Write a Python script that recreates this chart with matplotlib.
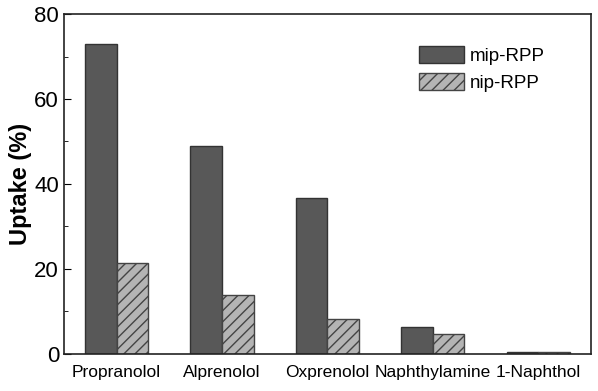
import matplotlib
matplotlib.use('Agg')
import matplotlib.pyplot as plt
import numpy as np

plt.rcParams['font.family'] = ['Liberation Sans', 'DejaVu Sans']
plt.rcParams['hatch.color'] = '#444444'
plt.rcParams['hatch.linewidth'] = 1.0

compounds = ['Propranolol', 'Alprenolol', 'Oxprenolol', 'Naphthylamine', '1-Naphthol']
mip_rpp = [72.9, 48.9, 36.7, 6.4, 0.5]
nip_rpp = [21.5, 13.9, 8.2, 4.6, 0.5]

fig = plt.figure(figsize=(5.98, 3.91), dpi=100)
ax = fig.add_axes([0.107, 0.095, 0.881, 0.869])

x = np.arange(len(compounds))
width = 0.3
ax.bar(x - width / 2, mip_rpp, width, color='#585858', edgecolor='#333333',
       linewidth=1.0, label='mip-RPP')
ax.bar(x + width / 2, nip_rpp, width, color='#b4b4b4', edgecolor='#444444',
       linewidth=1.0, hatch='///', label='nip-RPP')

ax.set_xlim(-0.5, 4.5)
ax.set_ylim(0, 80)
ax.set_yticks([0, 20, 40, 60, 80])
ax.set_yticks([10, 30, 50, 70], minor=True)
ax.set_xticks(x)
ax.set_xticklabels(compounds, fontsize=12.5)
ax.tick_params(axis='y', which='major', direction='in', length=5, labelsize=16)
ax.tick_params(axis='y', which='minor', direction='in', length=3)
ax.tick_params(axis='x', length=0, pad=8)
ax.set_ylabel('Uptake (%)', fontsize=17, fontweight='bold', labelpad=2)
for s in ax.spines.values():
    s.set_linewidth(1.2)
    s.set_color('#222222')

ax.legend(loc='upper right', bbox_to_anchor=(0.945, 0.955), frameon=False,
          fontsize=13.5, handlelength=2.4, handleheight=1.0,
          handletextpad=0.3, labelspacing=0.45)

fig.savefig('out.png', dpi=100)
